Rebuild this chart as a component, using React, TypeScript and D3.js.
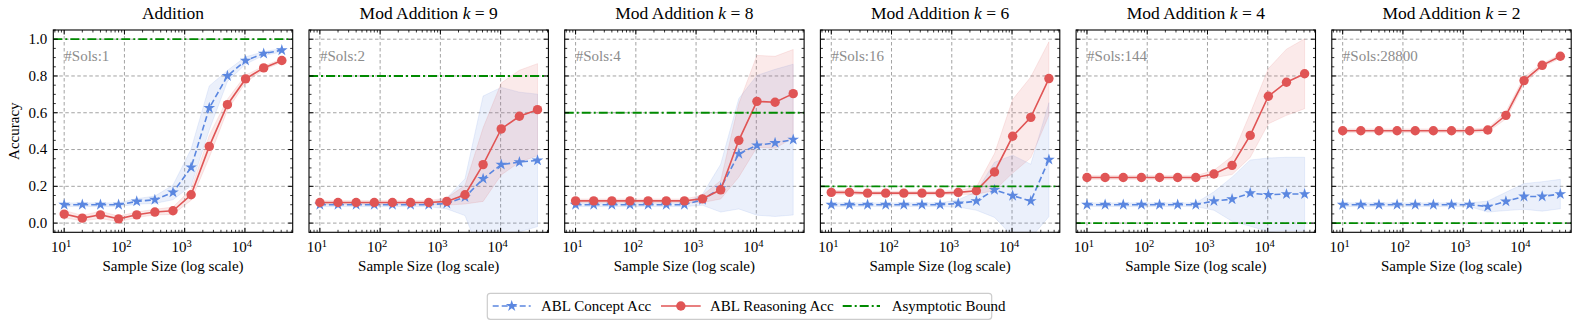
import React from "react";
import * as d3 from "d3";

// ---------- data ----------
const sampleSizes = [10, 20, 40, 80, 160, 320, 640, 1280, 2560, 5120, 10240, 20480, 40960];
const yTicks = [0, 0.2, 0.4, 0.6, 0.8, 1.0];
const xTickExps = [1, 2, 3, 4];

const panelTitles = ["Addition", "Mod Addition", "Mod Addition", "Mod Addition", "Mod Addition", "Mod Addition"];
const panelK = [null, 9, 8, 6, 4, 2];
const panelSols = ["#Sols:1", "#Sols:2", "#Sols:4", "#Sols:16", "#Sols:144", "#Sols:28800"];
const panelBound = [1.0, 0.8, 0.6, 0.2, 0.0, 0.0];

const addConcept = [0.10, 0.10, 0.10, 0.10, 0.118, 0.127, 0.167, 0.303, 0.626, 0.80, 0.884, 0.922, 0.94];
const addConceptSpread = [0.01, 0.01, 0.01, 0.01, 0.015, 0.02, 0.04, 0.1, 0.12, 0.03, 0.02, 0.01, 0.01];
const addReason = [0.049, 0.027, 0.045, 0.023, 0.045, 0.06, 0.067, 0.154, 0.417, 0.644, 0.784, 0.844, 0.884];
const addReasonSpread = [0.02, 0.015, 0.02, 0.015, 0.015, 0.015, 0.02, 0.03, 0.06, 0.03, 0.02, 0.01, 0.01];

const k9Concept = [0.10, 0.10, 0.10, 0.10, 0.10, 0.10, 0.10, 0.107, 0.141, 0.241, 0.318, 0.332, 0.341];
const k9ConceptSpread = [0.01, 0.01, 0.01, 0.01, 0.01, 0.01, 0.01, 0.03, 0.1, 0.45, 0.42, 0.38, 0.36];
const k9Reason = [0.112, 0.112, 0.112, 0.112, 0.112, 0.112, 0.112, 0.118, 0.154, 0.318, 0.512, 0.581, 0.617];
const k9ReasonSpread = [0.01, 0.01, 0.01, 0.01, 0.01, 0.01, 0.01, 0.02, 0.05, 0.2, 0.25, 0.25, 0.25];

const k8Concept = [0.10, 0.10, 0.10, 0.10, 0.10, 0.10, 0.10, 0.127, 0.19, 0.377, 0.423, 0.436, 0.454];
const k8ConceptSpread = [0.01, 0.01, 0.01, 0.01, 0.01, 0.01, 0.01, 0.03, 0.13, 0.3, 0.38, 0.4, 0.41];
const k8Reason = [0.121, 0.121, 0.121, 0.121, 0.121, 0.121, 0.121, 0.132, 0.181, 0.45, 0.662, 0.657, 0.704];
const k8ReasonSpread = [0.01, 0.01, 0.01, 0.01, 0.01, 0.01, 0.01, 0.02, 0.05, 0.2, 0.25, 0.25, 0.24];

const k6Concept = [0.10, 0.10, 0.10, 0.10, 0.10, 0.10, 0.10, 0.107, 0.12, 0.181, 0.149, 0.12, 0.345];
const k6ConceptSpread = [0.01, 0.01, 0.01, 0.01, 0.01, 0.01, 0.01, 0.02, 0.05, 0.15, 0.22, 0.2, 0.31];
const k6Reason = [0.167, 0.167, 0.163, 0.163, 0.163, 0.163, 0.163, 0.167, 0.176, 0.278, 0.472, 0.575, 0.786];
const k6ReasonSpread = [0.01, 0.01, 0.01, 0.01, 0.01, 0.01, 0.01, 0.01, 0.02, 0.1, 0.2, 0.22, 0.2];

const k4Concept = [0.10, 0.10, 0.10, 0.10, 0.10, 0.10, 0.10, 0.12, 0.13, 0.163, 0.154, 0.158, 0.158];
const k4ConceptSpread = [0.01, 0.01, 0.01, 0.01, 0.01, 0.01, 0.01, 0.05, 0.12, 0.18, 0.2, 0.2, 0.2];
const k4Reason = [0.248, 0.248, 0.248, 0.248, 0.248, 0.248, 0.248, 0.267, 0.314, 0.477, 0.69, 0.766, 0.812];
const k4ReasonSpread = [0.01, 0.01, 0.01, 0.01, 0.01, 0.01, 0.01, 0.02, 0.05, 0.12, 0.15, 0.18, 0.19];

const k2Concept = [0.10, 0.10, 0.10, 0.10, 0.10, 0.10, 0.10, 0.10, 0.09, 0.118, 0.145, 0.145, 0.158];
const k2ConceptSpread = [0.01, 0.01, 0.01, 0.01, 0.01, 0.01, 0.01, 0.01, 0.03, 0.05, 0.07, 0.08, 0.08];
const k2Reason = [0.502, 0.502, 0.502, 0.502, 0.502, 0.502, 0.502, 0.502, 0.506, 0.586, 0.775, 0.858, 0.907];
const k2ReasonSpread = [0.01, 0.01, 0.01, 0.01, 0.01, 0.01, 0.01, 0.01, 0.01, 0.02, 0.02, 0.01, 0.01];

const conceptSeries = [addConcept, k9Concept, k8Concept, k6Concept, k4Concept, k2Concept];
const conceptSpreads = [addConceptSpread, k9ConceptSpread, k8ConceptSpread, k6ConceptSpread, k4ConceptSpread, k2ConceptSpread];
const reasonSeries = [addReason, k9Reason, k8Reason, k6Reason, k4Reason, k2Reason];
const reasonSpreads = [addReasonSpread, k9ReasonSpread, k8ReasonSpread, k6ReasonSpread, k4ReasonSpread, k2ReasonSpread];

const legendLabels = ["ABL Concept Acc", "ABL Reasoning Acc", "Asymptotic Bound"];

// ---------- style ----------
const W = 1578, H = 326;
const FONT = "'Liberation Serif', 'DejaVu Serif', serif";
const BLUE = "#5b87e0";
const RED = "#e05555";
const GREEN = "#008a00";
const axTop = 30, axBottom = 232.3;
const axW = 239.4;
const axLeft0 = 53.3, axStep = 255.7;

const lx0 = Math.log10(sampleSizes[0]);
const lx1 = Math.log10(sampleSizes[sampleSizes.length - 1]);
const mx = (lx1 - lx0) * 0.05;
const xScale = d3.scaleLog().domain([10 ** (lx0 - mx), 10 ** (lx1 + mx)]).range([0, axW]);
const yScale = d3.scaleLinear().domain([-0.05, 1.05]).range([axBottom - axTop, 0]);
const AH = axBottom - axTop;

const minorX: number[] = [];
for (let e = 0; e <= 4; e++) for (let m = 2; m <= 9; m++) {
  const v = m * 10 ** e;
  if (v >= xScale.domain()[0] && v <= xScale.domain()[1]) minorX.push(v);
}
const minorY: number[] = d3.range(-0.05, 1.051, 0.05).filter((v) => Math.abs(Math.round(v * 5) - v * 5) > 1e-6);

const starPath = d3.symbol().type(d3.symbolStar).size(42)()!;

function Panel({ i }: { i: number }) {
  const left = axLeft0 + i * axStep;
  const concept = conceptSeries[i];
  const reason = reasonSeries[i];
  const cs = conceptSpreads[i];
  const rs = reasonSpreads[i];
  const line = d3.line<number>().x((_, j) => xScale(sampleSizes[j])).y((d) => yScale(d));
  const area = (m: number[], s: number[]) =>
    d3.area<number>().x((_, j) => xScale(sampleSizes[j])).y0((_, j) => yScale(m[j] - s[j])).y1((_, j) => yScale(m[j] + s[j]))(m)!;
  const clipId = `clip${i}`;
  const majTick = 4.5, minTick = 2.5;
  return (
    <g transform={`translate(${left},${axTop})`}>
      <defs>
        <clipPath id={clipId}><rect x={0} y={0} width={axW} height={AH} /></clipPath>
      </defs>
      {/* grid */}
      {xTickExps.map((e) => (
        <line key={"gx" + e} x1={xScale(10 ** e)} x2={xScale(10 ** e)} y1={0} y2={AH} stroke="#8c8c8c" strokeWidth={0.8} strokeDasharray="3.5,2.5" />
      ))}
      {yTicks.map((t) => (
        <line key={"gy" + t} x1={0} x2={axW} y1={yScale(t)} y2={yScale(t)} stroke="#8c8c8c" strokeWidth={0.8} strokeDasharray="3.5,2.5" />
      ))}
      <g clipPath={`url(#${clipId})`}>
        <path d={area(concept, cs)} fill={BLUE} fillOpacity={0.12} stroke={BLUE} strokeOpacity={0.12} />
        <path d={area(reason, rs)} fill={RED} fillOpacity={0.12} stroke={RED} strokeOpacity={0.12} />
        <path d={line(concept)!} fill="none" stroke={BLUE} strokeWidth={1.6} strokeDasharray="6,3" />
        {concept.map((v, j) => (
          <path key={"s" + j} d={starPath} transform={`translate(${xScale(sampleSizes[j])},${yScale(v)})`} fill={BLUE} />
        ))}
        <path d={line(reason)!} fill="none" stroke={RED} strokeWidth={1.6} />
        {reason.map((v, j) => (
          <circle key={"c" + j} cx={xScale(sampleSizes[j])} cy={yScale(v)} r={4.7} fill={RED} />
        ))}
        <line x1={0} x2={axW} y1={yScale(panelBound[i])} y2={yScale(panelBound[i])} stroke={GREEN} strokeWidth={1.8} strokeDasharray="9,3,2,3" />
      </g>
      {/* ticks */}
      {xTickExps.map((e) => (
        <g key={"tx" + e}>
          <line x1={xScale(10 ** e)} x2={xScale(10 ** e)} y1={AH} y2={AH - majTick} stroke="#000" strokeWidth={1} />
          <line x1={xScale(10 ** e)} x2={xScale(10 ** e)} y1={0} y2={majTick} stroke="#000" strokeWidth={1} />
          <text x={xScale(10 ** e) - 3} y={AH + 19.7} fontFamily={FONT} fontSize={15} textAnchor="middle">
            10<tspan dy={-5.5} fontSize={10.5}>{e}</tspan>
          </text>
        </g>
      ))}
      {minorX.map((v, j) => (
        <g key={"mx" + j}>
          <line x1={xScale(v)} x2={xScale(v)} y1={AH} y2={AH - minTick} stroke="#000" strokeWidth={0.8} />
          <line x1={xScale(v)} x2={xScale(v)} y1={0} y2={minTick} stroke="#000" strokeWidth={0.8} />
        </g>
      ))}
      {yTicks.map((t) => (
        <g key={"ty" + t}>
          <line x1={0} x2={majTick} y1={yScale(t)} y2={yScale(t)} stroke="#000" strokeWidth={1} />
          <line x1={axW} x2={axW - majTick} y1={yScale(t)} y2={yScale(t)} stroke="#000" strokeWidth={1} />
          {i === 0 && (
            <text x={-6} y={yScale(t)} dy="0.33em" fontFamily={FONT} fontSize={15} textAnchor="end">{t.toFixed(1)}</text>
          )}
        </g>
      ))}
      {minorY.map((v, j) => (
        <g key={"my" + j}>
          <line x1={0} x2={minTick} y1={yScale(v)} y2={yScale(v)} stroke="#000" strokeWidth={0.8} />
          <line x1={axW} x2={axW - minTick} y1={yScale(v)} y2={yScale(v)} stroke="#000" strokeWidth={0.8} />
        </g>
      ))}
      <rect x={0} y={0} width={axW} height={AH} fill="none" stroke="#000" strokeWidth={1.1} />
      <text x={11} y={30.5} fontFamily={FONT} fontSize={15} fill="#8c8c8c">{panelSols[i]}</text>
      {/* title */}
      <text x={axW / 2} y={19.3 - axTop} fontFamily={FONT} fontSize={17.5} textAnchor="middle">
        {panelTitles[i]}
        {panelK[i] !== null && (
          <>
            {" "}<tspan fontStyle="italic">k</tspan>{" = "}{panelK[i]}
          </>
        )}
      </text>
      <text x={axW / 2} y={271 - axTop} fontFamily={FONT} fontSize={15} textAnchor="middle">Sample Size (log scale)</text>
      {i === 0 && (
        <text transform={`translate(${18.5 - left},${AH / 2})rotate(-90)`} fontFamily={FONT} fontSize={15} textAnchor="middle">Accuracy</text>
      )}
    </g>
  );
}

function Legend() {
  const ly = 306;
  const items = [
    { x0: 492.7, x1: 530.7, tx: 541, color: BLUE, dash: "6,3", marker: "star" },
    { x0: 661, x1: 700.7, tx: 710, color: RED, dash: undefined, marker: "circle" },
    { x0: 842.7, x1: 880, tx: 891.7, color: GREEN, dash: "9,3,2,3", marker: "none" },
  ];
  return (
    <g>
      <rect x={487.3} y={293.3} width={504.4} height={26} rx={3} fill="#fff" stroke="#cccccc" strokeWidth={1.2} />
      {items.map((it, j) => (
        <g key={j}>
          <line x1={it.x0} x2={it.x1} y1={ly} y2={ly} stroke={it.color} strokeWidth={it.marker === "none" ? 1.8 : 1.6} strokeDasharray={it.dash} />
          {it.marker === "star" && <path d={starPath} transform={`translate(${(it.x0 + it.x1) / 2},${ly})`} fill={it.color} />}
          {it.marker === "circle" && <circle cx={(it.x0 + it.x1) / 2} cy={ly} r={4.7} fill={it.color} />}
          <text x={it.tx} y={310.5} fontFamily={FONT} fontSize={15}>{legendLabels[j]}</text>
        </g>
      ))}
    </g>
  );
}

export default function App() {
  return (
    <svg width={W} height={H} style={{ position: "absolute", left: 0, top: 0, background: "#fff" }}>
      <rect width={W} height={H} fill="#fff" />
      {panelTitles.map((_, i) => <Panel key={i} i={i} />)}
      <Legend />
    </svg>
  );
}
